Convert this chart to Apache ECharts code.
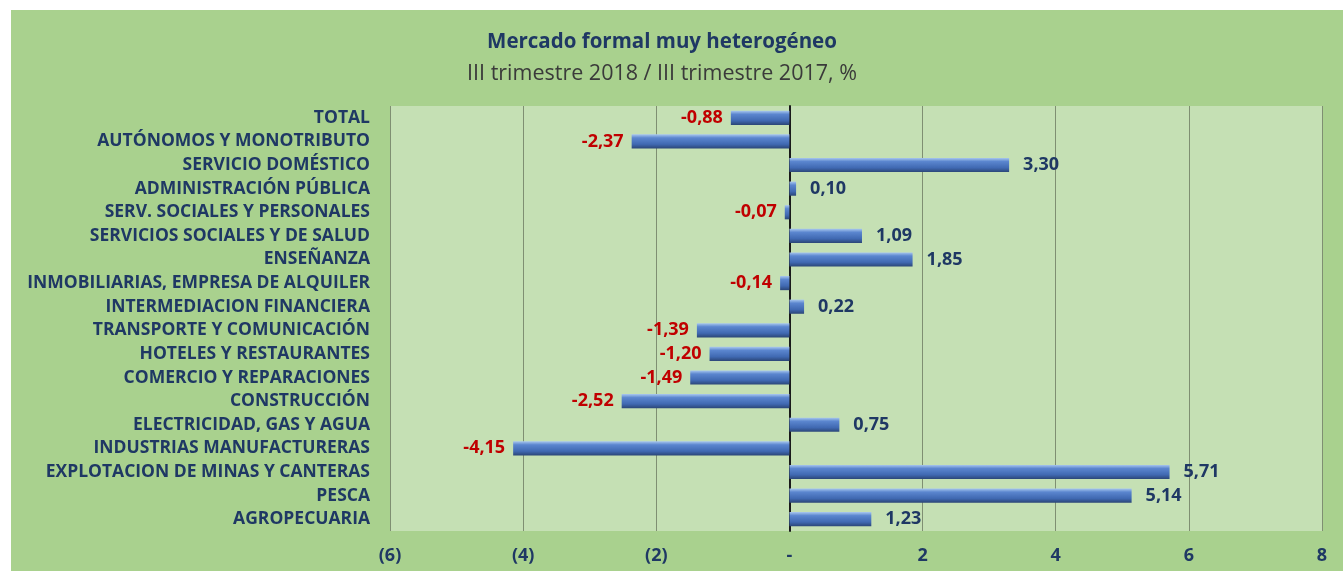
<!DOCTYPE html>
<html>
<head>
<meta charset="utf-8">
<script src="https://cdn.jsdelivr.net/npm/echarts@6/dist/echarts.min.js"></script>
<style>
html,body{margin:0;padding:0;background:#ffffff;width:1343px;height:571px;overflow:hidden;}
#chart{position:absolute;left:11px;top:10px;width:1332px;height:561px;}
</style>
</head>
<body>
<div id="chart"></div>
<script>
const categories = [
  "TOTAL",
  "AUTÓNOMOS Y MONOTRIBUTO",
  "SERVICIO DOMÉSTICO",
  "ADMINISTRACIÓN PÚBLICA",
  "SERV. SOCIALES Y PERSONALES",
  "SERVICIOS SOCIALES Y DE SALUD",
  "ENSEÑANZA",
  "INMOBILIARIAS, EMPRESA DE ALQUILER",
  "INTERMEDIACION FINANCIERA",
  "TRANSPORTE Y COMUNICACIÓN",
  "HOTELES Y RESTAURANTES",
  "COMERCIO Y REPARACIONES",
  "CONSTRUCCIÓN",
  "ELECTRICIDAD, GAS Y AGUA",
  "INDUSTRIAS MANUFACTURERAS",
  "EXPLOTACION DE MINAS Y CANTERAS",
  "PESCA",
  "AGROPECUARIA"
];
const values = [-0.88, -2.37, 3.30, 0.10, -0.07, 1.09, 1.85, -0.14, 0.22, -1.39, -1.20, -1.49, -2.52, 0.75, -4.15, 5.71, 5.14, 1.23];
const tickLabels = {"-6":"(6)","-4":"(4)","-2":"(2)","0":"-","2":"2","4":"4","6":"6","8":"8"};
const titleText = "Mercado formal muy heterogéneo";
const subtitleText = "III trimestre 2018 / III trimestre 2017, %";

const FONT = "'Open Sans', Lato, sans-serif";
const navy = "#1f3864";
const red = "#c00000";

const barGradient = new echarts.graphic.LinearGradient(0, 0, 0, 1, [
  {offset: 0, color: "#a9c8ee"},
  {offset: 0.25, color: "#5b86cf"},
  {offset: 0.7, color: "#4069b2"},
  {offset: 1, color: "#2b4677"}
]);

const chart = echarts.init(document.getElementById('chart'));
chart.setOption({
  backgroundColor: "#a9d18e",
  animation: false,
  title: {
    text: titleText,
    subtext: subtitleText,
    left: 646,
    textAlign: "center",
    top: 17,
    itemGap: 10,
    textStyle: {fontFamily: FONT, fontSize: 20.5, fontWeight: "bold", color: navy},
    subtextStyle: {fontFamily: FONT, fontSize: 21.5, color: "#3a3a3a"}
  },
  grid: {
    left: 379, right: 21, top: 96, bottom: 40,
    show: true, backgroundColor: "#c5e0b4", borderWidth: 0
  },
  xAxis: {
    type: "value",
    min: -6, max: 8, interval: 2,
    axisLine: {show: false},
    axisTick: {show: false},
    splitLine: {show: true, lineStyle: {color: "#7f8f72", width: 1}},
    axisLabel: {
      margin: 16,
      fontFamily: FONT, fontSize: 18, fontWeight: "bold", color: navy,
      formatter: function (v) { return tickLabels[String(v)]; }
    }
  },
  yAxis: {
    type: "category",
    data: categories,
    inverse: true,
    axisTick: {show: false},
    axisLine: {show: true, onZero: true, lineStyle: {color: "#1a1a1a", width: 2}},
    axisLabel: {
      margin: 20,
      fontFamily: FONT, fontSize: 17.5, fontWeight: "bold", color: navy
    }
  },
  series: [{
    type: "bar",
    data: values.map(v => ({
      value: v,
      label: {
        show: true,
        position: v < 0 ? "left" : "right",
        distance: v < 0 ? 8 : 14,
        color: v < 0 ? red : navy
      }
    })),
    barWidth: "60%",
    itemStyle: {color: barGradient},
    label: {
      fontFamily: FONT, fontSize: 18, fontWeight: "bold",
      formatter: p => p.value.toFixed(2).replace(".", ",")
    }
  }]
});
</script>
</body>
</html>
